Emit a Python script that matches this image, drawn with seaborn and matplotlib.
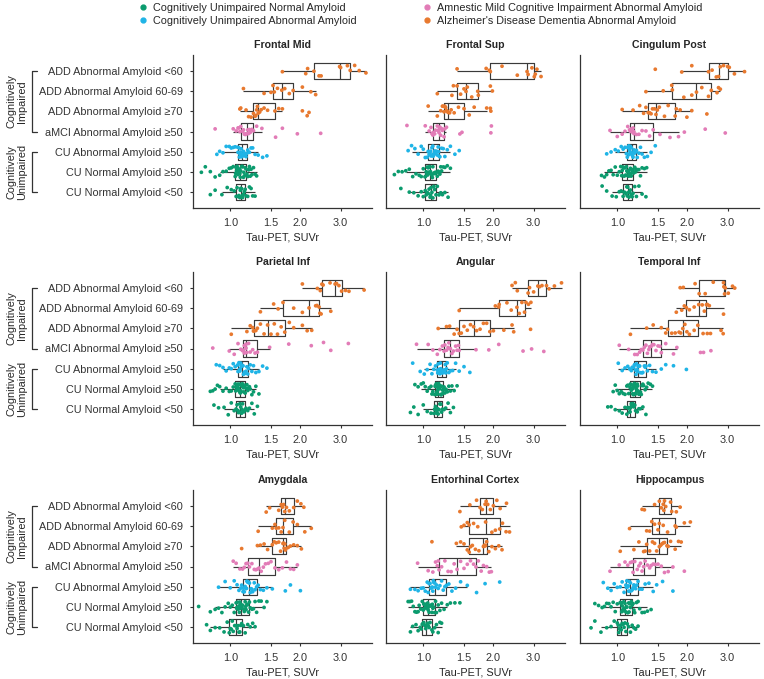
import numpy as np
import pandas as pd
import seaborn as sns
import matplotlib.pyplot as plt
from matplotlib.lines import Line2D
from matplotlib.ticker import NullLocator
from matplotlib.transforms import blended_transform_factory

# ---- data (Tau-PET SUVr) ----
groups = ["ADD Abnormal Amyloid <60", "ADD Abnormal Amyloid 60-69", "ADD Abnormal Amyloid ≥70",
          "aMCI Abnormal Amyloid ≥50", "CU Abnormal Amyloid ≥50", "CU Normal Amyloid ≥50",
          "CU Normal Amyloid <50"]
group_cohort = ["ADD", "ADD", "ADD", "aMCI", "CU_abn", "CU_norm", "CU_norm"]
cohorts = ["CU_norm", "CU_abn", "aMCI", "ADD"]
cohort_labels = ["Cognitively Unimpaired Normal Amyloid", "Cognitively Unimpaired Abnormal Amyloid",
                 "Amnestic Mild Cognitive Impairment Abnormal Amyloid",
                 "Alzheimer's Disease Dementia Abnormal Amyloid"]
cohort_colors = ["#0b9b6e", "#1fb4e6", "#e27cb7", "#e8792f"]

regions = ["Frontal Mid", "Frontal Sup", "Cingulum Post", "Parietal Inf", "Angular",
           "Temporal Inf", "Amygdala", "Entorhinal Cortex", "Hippocampus"]

frontal_mid = [
    [1.68, 2.12, 2.16, 2.30, 2.42, 2.47, 2.97, 3.00, 3.21, 3.30, 3.45, 3.61, 3.86],
    [1.14, 1.40, 1.50, 1.53, 1.55, 1.60, 1.67, 1.72, 1.80, 1.87, 2.05, 2.23, 2.34],
    [1.10, 1.11, 1.17, 1.20, 1.23, 1.26, 1.28, 1.29, 1.30, 1.31, 1.32, 1.34, 1.36, 1.40, 1.45, 1.56,
     1.62, 1.68, 2.05, 2.15, 2.19],
    [0.86, 1.03, 1.06, 1.08, 1.09, 1.10, 1.11, 1.13, 1.14, 1.15, 1.16, 1.17, 1.18, 1.19, 1.20, 1.21,
     1.22, 1.24, 1.26, 1.30, 1.37, 1.57, 1.68, 1.95, 2.46],
    [0.875, 0.90, 0.93, 0.96, 0.99, 1.01, 1.03, 1.05, 1.075, 1.08, 1.09, 1.095, 1.10, 1.105, 1.11,
     1.115, 1.12, 1.125, 1.13, 1.14, 1.145, 1.15, 1.16, 1.17, 1.18, 1.19, 1.21, 1.23, 1.25, 1.28,
     1.32, 1.38, 1.44],
    [0.75, 0.78, 0.82, 0.86, 0.90, 0.93, 0.96, 0.99, 1.01, 1.03, 1.05, 1.055, 1.06, 1.065, 1.07,
     1.075, 1.08, 1.085, 1.09, 1.095, 1.10, 1.105, 1.11, 1.12, 1.125, 1.13, 1.14, 1.145, 1.15, 1.16,
     1.17, 1.18, 1.19, 1.20, 1.21, 1.22, 1.23, 1.24, 1.26, 1.28, 1.30],
    [0.82, 0.86, 0.92, 0.97, 1.01, 1.04, 1.06, 1.07, 1.08, 1.09, 1.10, 1.105, 1.11, 1.12, 1.125,
     1.13, 1.14, 1.15, 1.16, 1.17, 1.19, 1.21, 1.23, 1.25, 1.28],
]
frontal_sup = [
    [1.40, 1.87, 1.93, 1.95, 2.19, 2.55, 2.81, 2.84, 2.95, 3.02, 3.05, 3.10, 3.23],
    [1.15, 1.33, 1.35, 1.40, 1.45, 1.50, 1.53, 1.55, 1.62, 1.72, 1.73, 1.95, 1.99],
    [1.05, 1.15, 1.19, 1.21, 1.22, 1.23, 1.24, 1.25, 1.26, 1.27, 1.28, 1.30, 1.32, 1.36, 1.42, 1.50,
     1.58, 1.66, 1.88, 1.95, 1.96],
    [0.85, 1.02, 1.06, 1.08, 1.09, 1.10, 1.105, 1.12, 1.13, 1.15, 1.16, 1.165, 1.17, 1.18, 1.18,
     1.19, 1.20, 1.21, 1.23, 1.24, 1.26, 1.44, 1.47, 1.96, 1.97],
    [0.86, 0.89, 0.92, 0.95, 0.98, 1.00, 1.02, 1.04, 1.05, 1.06, 1.07, 1.075, 1.08, 1.09, 1.095,
     1.10, 1.105, 1.11, 1.12, 1.13, 1.14, 1.15, 1.16, 1.165, 1.17, 1.18, 1.20, 1.22, 1.24, 1.27,
     1.31, 1.37, 1.43],
    [0.75, 0.78, 0.81, 0.84, 0.87, 0.90, 0.93, 0.96, 0.98, 1.00, 1.017, 1.025, 1.03, 1.035, 1.04,
     1.045, 1.05, 1.055, 1.06, 1.065, 1.07, 1.075, 1.08, 1.09, 1.095, 1.10, 1.11, 1.12, 1.125, 1.13,
     1.14, 1.15, 1.16, 1.17, 1.18, 1.19, 1.20, 1.22, 1.24, 1.27, 1.31],
    [0.80, 0.87, 0.91, 0.95, 0.98, 1.00, 1.02, 1.03, 1.04, 1.05, 1.06, 1.07, 1.075, 1.08, 1.09,
     1.10, 1.11, 1.12, 1.135, 1.15, 1.17, 1.19, 1.21, 1.24, 1.28],
]
cingulum_post = [
    [1.46, 1.90, 2.10, 2.48, 2.57, 2.68, 2.74, 2.79, 2.88, 3.00, 3.05, 3.21, 3.55],
    [1.33, 1.58, 1.72, 1.73, 1.94, 2.10, 2.20, 2.32, 2.48, 2.55, 2.70, 2.74, 2.79],
    [1.05, 1.17, 1.25, 1.30, 1.33, 1.36, 1.38, 1.40, 1.42, 1.45, 1.47, 1.49, 1.52, 1.60, 1.66, 1.78,
     1.80, 1.87, 2.00, 2.10, 2.44],
    [0.93, 1.00, 1.05, 1.08, 1.11, 1.13, 1.14, 1.15, 1.16, 1.17, 1.17, 1.18, 1.18, 1.21, 1.24, 1.28,
     1.33, 1.38, 1.43, 1.53, 1.69, 1.84, 1.95, 2.40, 2.93],
    [0.90, 0.94, 0.98, 1.01, 1.04, 1.06, 1.08, 1.095, 1.105, 1.11, 1.12, 1.125, 1.13, 1.135, 1.14,
     1.15, 1.155, 1.16, 1.165, 1.17, 1.18, 1.19, 1.195, 1.20, 1.21, 1.22, 1.24, 1.26, 1.28, 1.31,
     1.35, 1.40, 1.46],
    [0.855, 0.88, 0.90, 0.92, 0.94, 0.96, 0.98, 1.00, 1.02, 1.035, 1.045, 1.05, 1.06, 1.065, 1.07,
     1.08, 1.085, 1.09, 1.095, 1.10, 1.105, 1.11, 1.12, 1.125, 1.13, 1.14, 1.145, 1.15, 1.16, 1.165,
     1.17, 1.18, 1.19, 1.20, 1.21, 1.22, 1.24, 1.26, 1.28, 1.31, 1.34],
    [0.86, 0.90, 0.95, 0.99, 1.02, 1.04, 1.06, 1.07, 1.08, 1.09, 1.10, 1.105, 1.11, 1.12, 1.125,
     1.13, 1.14, 1.15, 1.16, 1.17, 1.19, 1.21, 1.24, 1.28, 1.33],
]
parietal_inf = [
    [2.05, 2.38, 2.45, 2.49, 2.52, 2.70, 2.84, 2.88, 2.95, 3.03, 3.15, 3.26, 3.79],
    [1.35, 1.54, 1.61, 1.69, 1.88, 2.05, 2.19, 2.34, 2.37, 2.42, 2.44, 2.47, 2.72],
    [1.01, 1.18, 1.22, 1.25, 1.26, 1.27, 1.29, 1.31, 1.35, 1.40, 1.45, 1.50, 1.55, 1.60, 1.66, 1.72,
     1.80, 1.88, 2.05, 2.15, 2.25],
    [0.84, 0.99, 1.04, 1.08, 1.11, 1.13, 1.14, 1.15, 1.15, 1.16, 1.16, 1.17, 1.17, 1.18, 1.20, 1.22,
     1.25, 1.28, 1.31, 1.48, 1.79, 2.24, 2.53, 2.72, 3.24],
    [0.87, 0.90, 0.93, 0.96, 0.99, 1.01, 1.03, 1.05, 1.075, 1.08, 1.09, 1.095, 1.10, 1.105, 1.11,
     1.115, 1.12, 1.13, 1.135, 1.14, 1.15, 1.16, 1.17, 1.18, 1.19, 1.20, 1.22, 1.24, 1.26, 1.29,
     1.33, 1.38, 1.44],
    [0.82, 0.84, 0.86, 0.88, 0.90, 0.93, 0.96, 0.99, 1.01, 1.03, 1.05, 1.055, 1.06, 1.07, 1.075,
     1.08, 1.085, 1.09, 1.095, 1.10, 1.105, 1.11, 1.115, 1.12, 1.125, 1.13, 1.135, 1.14, 1.145, 1.15,
     1.16, 1.17, 1.18, 1.19, 1.20, 1.21, 1.22, 1.24, 1.26, 1.29, 1.33],
    [0.85, 0.89, 0.94, 0.98, 1.01, 1.04, 1.06, 1.07, 1.08, 1.085, 1.09, 1.10, 1.105, 1.11, 1.12,
     1.125, 1.13, 1.145, 1.16, 1.17, 1.19, 1.21, 1.24, 1.27, 1.31],
]
angular = [
    [2.42, 2.50, 2.55, 2.84, 2.88, 3.00, 3.13, 3.18, 3.26, 3.41, 3.50, 3.69, 3.96],
    [1.43, 2.05, 2.12, 2.13, 2.30, 2.40, 2.54, 2.60, 2.67, 2.74, 2.78, 2.85, 2.92],
    [1.16, 1.26, 1.30, 1.36, 1.40, 1.43, 1.46, 1.50, 1.55, 1.60, 1.65, 1.70, 1.76, 1.82, 1.88, 1.94,
     2.01, 2.23, 2.42, 2.46, 2.91],
    [0.935, 1.05, 1.10, 1.15, 1.18, 1.21, 1.23, 1.24, 1.26, 1.28, 1.29, 1.30, 1.31, 1.33, 1.35,
     1.38, 1.40, 1.42, 1.43, 1.69, 1.92, 2.12, 2.70, 2.94, 3.32],
    [0.90, 0.97, 1.01, 1.04, 1.07, 1.09, 1.11, 1.13, 1.15, 1.155, 1.16, 1.17, 1.175, 1.18, 1.185,
     1.19, 1.20, 1.205, 1.21, 1.22, 1.23, 1.24, 1.245, 1.25, 1.26, 1.27, 1.29, 1.31, 1.34, 1.38,
     1.43, 1.50, 1.59],
    [0.92, 0.95, 0.98, 1.00, 1.02, 1.04, 1.06, 1.08, 1.09, 1.10, 1.12, 1.125, 1.13, 1.135, 1.14,
     1.145, 1.15, 1.15, 1.155, 1.155, 1.16, 1.165, 1.17, 1.175, 1.18, 1.19, 1.195, 1.20, 1.21, 1.215,
     1.22, 1.23, 1.24, 1.25, 1.26, 1.27, 1.29, 1.31, 1.33, 1.36, 1.40],
    [0.88, 0.91, 0.95, 1.00, 1.04, 1.08, 1.11, 1.12, 1.125, 1.13, 1.14, 1.145, 1.15, 1.155, 1.16,
     1.17, 1.18, 1.19, 1.20, 1.21, 1.23, 1.25, 1.28, 1.31, 1.35],
]
temporal_inf = [
    [1.87, 1.93, 2.17, 2.26, 2.40, 2.60, 2.88, 2.89, 2.91, 2.93, 3.02, 3.15, 3.22],
    [1.80, 1.90, 1.95, 1.99, 2.05, 2.15, 2.25, 2.33, 2.38, 2.43, 2.45, 2.50, 2.88],
    [1.14, 1.34, 1.43, 1.55, 1.62, 1.65, 1.72, 1.78, 1.85, 1.88, 1.92, 1.96, 2.00, 2.05, 2.15, 2.23,
     2.35, 2.45, 2.53, 2.81, 2.87],
    [1.02, 1.12, 1.19, 1.22, 1.25, 1.27, 1.29, 1.31, 1.33, 1.35, 1.37, 1.38, 1.40, 1.42, 1.44, 1.47,
     1.50, 1.53, 1.55, 1.62, 1.75, 1.81, 2.29, 2.36, 2.54],
    [1.01, 1.05, 1.08, 1.11, 1.13, 1.15, 1.16, 1.175, 1.185, 1.19, 1.20, 1.205, 1.21, 1.215, 1.22,
     1.225, 1.23, 1.24, 1.25, 1.26, 1.28, 1.29, 1.31, 1.32, 1.33, 1.35, 1.38, 1.42, 1.47, 1.55,
     1.62, 1.75, 1.99],
    [0.96, 0.98, 1.00, 1.02, 1.04, 1.06, 1.08, 1.10, 1.11, 1.12, 1.135, 1.14, 1.15, 1.155, 1.16,
     1.165, 1.17, 1.175, 1.18, 1.185, 1.19, 1.195, 1.20, 1.21, 1.215, 1.22, 1.225, 1.23, 1.24, 1.245,
     1.25, 1.26, 1.27, 1.28, 1.29, 1.30, 1.32, 1.34, 1.36, 1.39, 1.42],
    [0.91, 0.94, 0.98, 1.02, 1.05, 1.08, 1.10, 1.11, 1.115, 1.12, 1.13, 1.135, 1.14, 1.145, 1.15,
     1.16, 1.17, 1.18, 1.19, 1.20, 1.22, 1.24, 1.26, 1.29, 1.33],
]
amygdala = [
    [1.43, 1.48, 1.62, 1.66, 1.68, 1.70, 1.72, 1.75, 1.80, 1.88, 1.95, 2.02, 2.08],
    [1.32, 1.52, 1.56, 1.58, 1.62, 1.66, 1.69, 1.72, 1.80, 1.87, 1.95, 2.10, 2.24],
    [1.12, 1.31, 1.35, 1.40, 1.45, 1.52, 1.55, 1.58, 1.62, 1.65, 1.69, 1.70, 1.71, 1.72, 1.73, 1.74,
     1.78, 1.82, 1.88, 1.95, 2.03],
    [1.03, 1.06, 1.10, 1.13, 1.15, 1.17, 1.19, 1.21, 1.24, 1.27, 1.29, 1.31, 1.33, 1.36, 1.39, 1.42,
     1.46, 1.50, 1.56, 1.62, 1.68, 1.75, 1.82, 1.88, 1.95],
    [0.89, 0.95, 1.00, 1.04, 1.07, 1.09, 1.11, 1.12, 1.135, 1.14, 1.15, 1.16, 1.17, 1.175, 1.18,
     1.19, 1.20, 1.21, 1.22, 1.23, 1.24, 1.25, 1.27, 1.28, 1.30, 1.32, 1.35, 1.39, 1.44, 1.52,
     1.73, 1.82, 2.01],
    [0.73, 0.82, 0.86, 0.89, 0.92, 0.95, 0.98, 1.00, 1.02, 1.04, 1.06, 1.065, 1.07, 1.075, 1.08,
     1.085, 1.09, 1.095, 1.10, 1.105, 1.11, 1.12, 1.13, 1.14, 1.15, 1.16, 1.165, 1.17, 1.18, 1.19,
     1.20, 1.21, 1.22, 1.24, 1.26, 1.28, 1.30, 1.33, 1.36, 1.40, 1.44],
    [0.79, 0.82, 0.86, 0.90, 0.94, 0.97, 0.99, 1.00, 1.01, 1.02, 1.03, 1.045, 1.06, 1.07, 1.08,
     1.09, 1.10, 1.11, 1.12, 1.14, 1.16, 1.19, 1.22, 1.25, 1.28],
]
entorhinal = [
    [1.44, 1.59, 1.70, 1.76, 1.80, 1.85, 1.87, 1.90, 1.95, 2.01, 2.08, 2.15, 2.29],
    [1.46, 1.50, 1.55, 1.58, 1.65, 1.72, 1.86, 1.98, 2.05, 2.14, 2.20, 2.28, 2.36],
    [1.09, 1.39, 1.45, 1.50, 1.55, 1.58, 1.60, 1.63, 1.68, 1.74, 1.82, 1.83, 1.84, 1.85, 1.86, 1.88,
     1.92, 1.98, 2.05, 2.12, 2.19],
    [0.945, 1.05, 1.10, 1.13, 1.15, 1.16, 1.17, 1.20, 1.24, 1.28, 1.32, 1.36, 1.40, 1.45, 1.50,
     1.55, 1.60, 1.65, 1.69, 1.73, 1.78, 1.82, 1.88, 1.93, 1.97],
    [0.88, 0.92, 0.95, 0.98, 1.00, 1.02, 1.04, 1.05, 1.06, 1.07, 1.08, 1.09, 1.095, 1.10, 1.105,
     1.11, 1.12, 1.13, 1.14, 1.16, 1.18, 1.20, 1.22, 1.24, 1.26, 1.29, 1.33, 1.38, 1.45, 1.55,
     1.70, 1.85, 2.14],
    [0.86, 0.875, 0.89, 0.905, 0.92, 0.935, 0.95, 0.96, 0.975, 0.99, 1.00, 1.005, 1.01, 1.02, 1.025,
     1.03, 1.035, 1.04, 1.045, 1.048, 1.05, 1.055, 1.06, 1.07, 1.075, 1.08, 1.09, 1.095, 1.10, 1.11,
     1.12, 1.13, 1.14, 1.16, 1.18, 1.20, 1.23, 1.27, 1.31, 1.37, 1.44],
    [0.88, 0.90, 0.93, 0.95, 0.97, 0.98, 0.99, 1.00, 1.005, 1.01, 1.02, 1.025, 1.03, 1.04, 1.045,
     1.05, 1.06, 1.07, 1.09, 1.10, 1.12, 1.14, 1.16, 1.18, 1.20],
]
hippocampus = [
    [1.28, 1.31, 1.45, 1.52, 1.55, 1.58, 1.59, 1.60, 1.62, 1.70, 1.72, 1.80, 1.87],
    [1.13, 1.34, 1.38, 1.41, 1.45, 1.50, 1.52, 1.58, 1.65, 1.78, 1.80, 1.95, 2.07],
    [1.03, 1.18, 1.24, 1.30, 1.32, 1.34, 1.38, 1.42, 1.45, 1.48, 1.52, 1.54, 1.56, 1.58, 1.60, 1.64,
     1.66, 1.70, 1.78, 1.84, 1.89],
    [0.93, 1.02, 1.08, 1.11, 1.14, 1.16, 1.17, 1.19, 1.22, 1.24, 1.26, 1.28, 1.30, 1.32, 1.35, 1.38,
     1.40, 1.43, 1.46, 1.50, 1.55, 1.60, 1.66, 1.74, 1.95],
    [0.87, 0.91, 0.94, 0.97, 1.00, 1.03, 1.05, 1.07, 1.09, 1.095, 1.10, 1.11, 1.115, 1.12, 1.125,
     1.13, 1.14, 1.15, 1.16, 1.17, 1.18, 1.19, 1.20, 1.215, 1.23, 1.25, 1.28, 1.32, 1.37, 1.43,
     1.48, 1.57, 1.74],
    [0.80, 0.83, 0.86, 0.88, 0.90, 0.92, 0.94, 0.96, 0.98, 1.00, 1.03, 1.035, 1.04, 1.045, 1.05,
     1.055, 1.06, 1.065, 1.07, 1.075, 1.08, 1.09, 1.095, 1.10, 1.11, 1.12, 1.125, 1.13, 1.14, 1.15,
     1.16, 1.17, 1.18, 1.19, 1.21, 1.23, 1.25, 1.28, 1.31, 1.35, 1.40],
    [0.77, 0.80, 0.85, 0.90, 0.94, 0.97, 1.00, 1.01, 1.015, 1.02, 1.03, 1.035, 1.04, 1.05, 1.06,
     1.07, 1.08, 1.09, 1.105, 1.12, 1.14, 1.16, 1.18, 1.20, 1.23],
]
region_values = [frontal_mid, frontal_sup, cingulum_post, parietal_inf, angular,
                 temporal_inf, amygdala, entorhinal, hippocampus]

xticks = [1.0, 1.5, 2.0, 3.0]
xtick_labels = ["1.0", "1.5", "2.0", "3.0"]

# long table
rows = []
for region, vals in zip(regions, region_values):
    for g, coh, v in zip(groups, group_cohort, vals):
        for x in v:
            rows.append((region, g, coh, x))
df = pd.DataFrame(rows, columns=["region", "group", "cohort", "suvr"])

# ---- style ----
sns.set_style("ticks")
plt.rcParams["font.family"] = ["Liberation Sans", "DejaVu Sans"]
plt.rcParams["axes.edgecolor"] = "#333333"
plt.rcParams["axes.linewidth"] = 0.9
plt.rcParams["xtick.color"] = "#333333"
plt.rcParams["ytick.color"] = "#333333"
plt.rcParams["xtick.major.size"] = 2.5
plt.rcParams["ytick.major.size"] = 2.5

FS = 7.8
palette = dict(zip(cohorts, cohort_colors))
np.random.seed(3)

fig = plt.figure(figsize=(7.64, 6.79), dpi=100)
W, H = 764, 679
col_left = [193, 386, 580]
row_top = [55, 272, 490]
ax_w, ax_h = 179, 153

for i, region in enumerate(regions):
    r, c = divmod(i, 3)
    ax = fig.add_axes([col_left[c] / W, 1 - (row_top[r] + ax_h) / H, ax_w / W, ax_h / H])
    sub = df[df.region == region]
    sns.boxplot(data=sub, x="suvr", y="group", order=groups, fill=False, color="#3a3a3a",
                width=0.8, linewidth=0.85, showfliers=False, capprops={"linewidth": 0}, ax=ax)
    sns.stripplot(data=sub, x="suvr", y="group", hue="cohort", order=groups, hue_order=cohorts,
                  palette=palette, jitter=0.3, size=2.7, linewidth=0, legend=False,
                  zorder=3, ax=ax)
    ax.set_xscale("log")
    ax.set_xlim(0.69, 4.1)
    ax.set_ylim(6.8, -0.8)
    ax.set_xticks(xticks)
    ax.set_xticklabels(xtick_labels, fontsize=FS)
    ax.xaxis.set_minor_locator(NullLocator())
    ax.tick_params(axis="x", pad=5)
    ax.set_xlabel("Tau-PET, SUVr", fontsize=FS, labelpad=3)
    ax.set_ylabel("")
    ax.set_title(region, fontsize=7.6, fontweight="bold", pad=5)
    sns.despine(ax=ax)
    if c == 0:
        ax.tick_params(axis="y", labelsize=FS, pad=5)
        tr = blended_transform_factory(ax.transAxes, ax.transData)
        for (y0, y1, label) in [(0, 3, "Cognitively\nImpaired"), (4, 6, "Cognitively\nUnimpaired")]:
            ax.plot([-0.872, -0.899, -0.899, -0.872], [y0, y0, y1, y1], color="#333333",
                    lw=0.9, transform=tr, clip_on=False)
            ax.text(-0.985, (y0 + y1) / 2, label, rotation=90, ha="center", va="center",
                    fontsize=FS, transform=tr, linespacing=1.0)
    else:
        ax.set_yticks([])

handles = [Line2D([], [], marker="o", ls="", color=col, markersize=3.5) for col in cohort_colors]
fig.legend(handles, cohort_labels, ncol=2, loc="upper left", bbox_to_anchor=(0.166, 1.010),
           frameon=False, fontsize=FS, handletextpad=0.3, columnspacing=5.9, labelspacing=0.3,
           handlelength=1.2)

fig.savefig("out.png", dpi=100)
